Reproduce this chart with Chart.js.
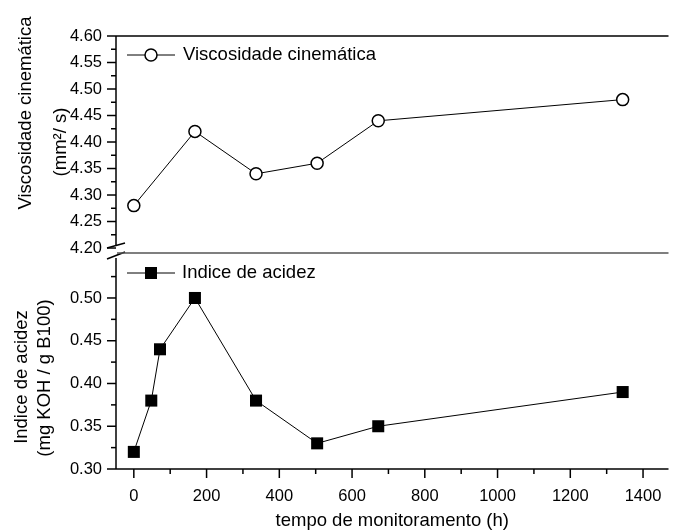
<!DOCTYPE html>
<html>
<head>
<meta charset="utf-8">
<script src="https://cdn.jsdelivr.net/npm/chart.js@4.4.1/dist/chart.umd.min.js"></script>
<style>
  html, body { margin: 0; padding: 0; background: #fff; }
</style>
</head>
<body>
<canvas id="chart" width="677" height="532"></canvas>
<script>
const hoursVisc = [0, 168, 336, 504, 672, 1344];
const viscosity = [4.28, 4.42, 4.34, 4.36, 4.44, 4.48];
const hoursAcid = [0, 48, 72, 168, 336, 504, 672, 1344];
const acidity = [0.32, 0.38, 0.44, 0.50, 0.38, 0.33, 0.35, 0.39];

const xTicks = [0, 200, 400, 600, 800, 1000, 1200, 1400];
const viscTicks = [4.20, 4.25, 4.30, 4.35, 4.40, 4.45, 4.50, 4.55, 4.60];
const acidTicks = [0.30, 0.35, 0.40, 0.45, 0.50];

const FONT = '"Liberation Sans", Arial, sans-serif';
Chart.defaults.font.family = FONT;
Chart.defaults.font.size = 16.5;
Chart.defaults.color = "#000";

// minor ticks sit half way between the major ones
function minors(major) {
  const out = [];
  for (let i = 0; i < major.length - 1; i++) out.push((major[i] + major[i + 1]) / 2);
  return out;
}

const frame = {
  id: "frame",
  afterDraw(chart) {
    const ctx = chart.ctx;
    const { left, right, top, bottom } = chart.chartArea;
    const sx = chart.scales.x, yt = chart.scales.yTop, yb = chart.scales.yBot;
    const mid = yt.bottom;

    const seg = (x1, y1, x2, y2) => {
      ctx.beginPath();
      ctx.moveTo(x1, y1);
      ctx.lineTo(x2, y2);
      ctx.stroke();
    };

    ctx.save();
    ctx.strokeStyle = "#000";
    ctx.lineWidth = 1.5;

    // frame lines
    seg(left, top, right, top);
    seg(left, bottom, right, bottom);
    seg(left, top, left, mid - 7);
    seg(left, mid + 5, left, bottom);

    // break marks
    seg(left - 9, mid - 5, left + 9, mid - 10);
    seg(left - 9, mid + 6, left + 9, mid - 1);

    // ticks
    viscTicks.forEach((v) => { const p = yt.getPixelForValue(v); seg(left - 9, p, left, p); });
    minors(viscTicks).forEach((v) => { const p = yt.getPixelForValue(v); seg(left - 5, p, left, p); });
    acidTicks.forEach((v) => { const p = yb.getPixelForValue(v); seg(left - 9, p, left, p); });
    minors(acidTicks.concat([0.55])).forEach((v) => { const p = yb.getPixelForValue(v); seg(left - 5, p, left, p); });
    xTicks.forEach((v) => { const p = sx.getPixelForValue(v); seg(p, bottom, p, bottom + 9); });
    minors(xTicks).forEach((v) => { const p = sx.getPixelForValue(v); seg(p, bottom, p, bottom + 5); });

    // divider between panels
    ctx.strokeStyle = "#555";
    seg(left + 1, mid, right, mid);

    // legends
    ctx.strokeStyle = "#000";
    ctx.lineWidth = 1;
    const ly1 = 55, ly2 = 273;
    seg(127, ly1, 175, ly1);
    seg(127, ly2, 175, ly2);
    ctx.lineWidth = 1.5;
    ctx.fillStyle = "#fff";
    ctx.beginPath();
    ctx.arc(151, ly1, 6, 0, Math.PI * 2);
    ctx.fill();
    ctx.stroke();
    ctx.fillStyle = "#000";
    ctx.fillRect(145, ly2 - 6, 12, 12);

    ctx.font = "18.5px " + FONT;
    ctx.textAlign = "left";
    ctx.textBaseline = "middle";
    ctx.fillText("Viscosidade cinemática", 183, ly1);
    ctx.fillText("Indice de acidez", 182, ly2);

    // y titles
    const vtext = (t, x, y) => {
      ctx.save();
      ctx.translate(x, y);
      ctx.rotate(-Math.PI / 2);
      ctx.textAlign = "center";
      ctx.fillText(t, 0, 0);
      ctx.restore();
    };
    vtext("Viscosidade cinemática", 26, 113);
    vtext("(mm²/ s)", 61, 142);
    vtext("Indice de acidez", 22, 377);
    vtext("(mg KOH / g B100)", 45, 378);

    ctx.restore();
  },
};

new Chart(document.getElementById("chart"), {
  type: "line",
  data: {
    datasets: [
      {
        label: "Viscosidade cinemática",
        data: hoursVisc.map((h, i) => ({ x: h, y: viscosity[i] })),
        yAxisID: "yTop",
        borderColor: "#000",
        borderWidth: 1,
        pointStyle: "circle",
        pointRadius: 6,
        pointBackgroundColor: "#fff",
        pointBorderColor: "#000",
        pointBorderWidth: 1.5,
        tension: 0,
      },
      {
        label: "Indice de acidez",
        data: hoursAcid.map((h, i) => ({ x: h, y: acidity[i] })),
        yAxisID: "yBot",
        borderColor: "#000",
        borderWidth: 1,
        pointStyle: "rect",
        pointRadius: 8.5,
        pointBackgroundColor: "#000",
        pointBorderColor: "#000",
        pointBorderWidth: 0,
        tension: 0,
      },
    ],
  },
  options: {
    responsive: false,
    animation: false,
    clip: false,
    // the layout keeps ~5px on the right, so pull the plot out to the edge
    layout: { padding: { top: 36, left: 0, right: -5, bottom: 0 } },
    plugins: { legend: { display: false }, tooltip: { enabled: false } },
    scales: {
      x: {
        type: "linear",
        min: -49,
        max: 1470,
        grid: { display: false, drawTicks: false },
        border: { display: false },
        ticks: { padding: 18, maxRotation: 0, autoSkip: false, callback: (v) => String(v) },
        afterBuildTicks: (s) => { s.ticks = xTicks.map((v) => ({ value: v })); },
        afterFit: (s) => { s.height = 63; s.paddingLeft = 0; s.paddingRight = 0; },
        title: { display: true, text: "tempo de monitoramento (h)", font: { size: 18.5 }, padding: { top: 0, bottom: 0 } },
      },
      yBot: {
        type: "linear",
        position: "left",
        stack: "panels",
        stackWeight: 216,
        min: 0.3,
        max: 0.5526,
        grid: { display: false, drawTicks: false },
        border: { display: false },
        ticks: { padding: 14, autoSkip: false, callback: (v) => v.toFixed(2) },
        afterBuildTicks: (s) => { s.ticks = acidTicks.map((v) => ({ value: v })); },
        afterFit: (s) => { s.width = 116; s.paddingTop = 0; s.paddingBottom = 0; },
      },
      yTop: {
        type: "linear",
        position: "left",
        stack: "panels",
        stackWeight: 217,
        min: 4.1906,
        max: 4.6,
        grid: { display: false, drawTicks: false },
        border: { display: false },
        ticks: { padding: 14, autoSkip: false, callback: (v) => v.toFixed(2) },
        afterBuildTicks: (s) => { s.ticks = viscTicks.map((v) => ({ value: v })); },
        afterFit: (s) => { s.width = 116; s.paddingTop = 0; s.paddingBottom = 0; },
      },
    },
  },
  plugins: [frame],
});
</script>
</body>
</html>
